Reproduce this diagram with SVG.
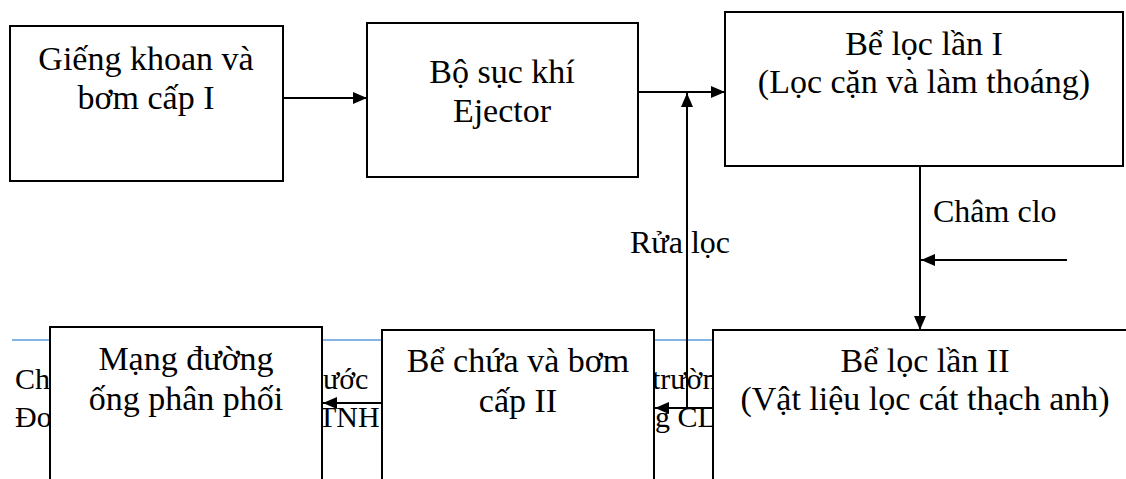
<svg xmlns="http://www.w3.org/2000/svg" width="1126" height="479" viewBox="0 0 1126 479">
<style>
.box{fill:#fff;stroke:#000;stroke-width:2}
.t{font-family:"Liberation Serif","Times New Roman",serif;font-size:34px;fill:#000;text-anchor:middle}
.lbl{font-family:"Liberation Serif","Times New Roman",serif;font-size:32px;fill:#000}
.bg{font-family:"Liberation Serif","Times New Roman",serif;font-size:30px;fill:#000}
.ln{stroke:#000;stroke-width:2;fill:none}
</style>
<defs>
<marker id="ah" markerWidth="14" markerHeight="12" refX="14" refY="6" orient="auto" markerUnits="userSpaceOnUse">
<path d="M0,0 L14,6 L0,12 Z" fill="#000"/>
</marker>
</defs>
<rect width="1126" height="479" fill="#fff"/>
<g id="background-text">
<line x1="12" y1="340" x2="713" y2="340" stroke="#5B9BD5" stroke-width="1.5"/>
<text class="bg" x="15" y="389">Ch</text>
<text class="bg" x="15" y="427">Đo</text>
<text class="bg" x="323" y="389">ước</text>
<text class="bg" x="318" y="427">TNH</text>
<text class="bg" x="652" y="389">trườn</text>
<text class="bg" x="655" y="427">g CL</text>
</g>
<g id="connectors">
<line class="ln" x1="283" y1="98" x2="367" y2="98" marker-end="url(#ah)"/>
<line class="ln" x1="638" y1="92" x2="725" y2="92" marker-end="url(#ah)"/>
<line class="ln" x1="687" y1="408" x2="687" y2="93" marker-end="url(#ah)"/>
<line class="ln" x1="920" y1="166" x2="920" y2="330" marker-end="url(#ah)"/>
<line class="ln" x1="1067" y1="260" x2="921" y2="260" marker-end="url(#ah)"/>
<line class="ln" x1="713" y1="408" x2="655" y2="408" marker-end="url(#ah)"/>
<line class="ln" x1="382" y1="403" x2="323" y2="403" marker-end="url(#ah)"/>
<text class="lbl" x="630" y="253">Rửa lọc</text>
<text class="lbl" x="933" y="222">Châm clo</text>
</g>
<g id="node-gieng">
<rect class="box" x="10" y="26" width="273" height="155"/>
<text class="t" x="146" y="70">Giếng khoan và</text>
<text class="t" x="146" y="109">bơm cấp I</text>
</g>
<g id="node-ejector">
<rect class="box" x="367" y="23" width="271" height="154"/>
<text class="t" x="502" y="83">Bộ sục khí</text>
<text class="t" x="502" y="122">Ejector</text>
</g>
<g id="node-loc1">
<rect class="box" x="725" y="12" width="398" height="154"/>
<text class="t" x="924" y="55">Bể lọc lần I</text>
<text class="t" x="924" y="93">(Lọc cặn và làm thoáng)</text>
</g>
<g id="node-loc2">
<rect class="box" x="713" y="330" width="424" height="160"/>
<text class="t" x="925" y="372">Bể lọc lần II</text>
<text class="t" x="925" y="410">(Vật liệu lọc cát thạch anh)</text>
</g>
<g id="node-bechua">
<rect class="box" x="382" y="330" width="272" height="160"/>
<text class="t" x="518" y="372">Bể chứa và bơm</text>
<text class="t" x="518" y="412">cấp II</text>
</g>
<g id="node-mang">
<rect class="box" x="50" y="327" width="272" height="163"/>
<text class="t" x="186" y="370">Mạng đường</text>
<text class="t" x="186" y="410">ống phân phối</text>
</g>
</svg>
